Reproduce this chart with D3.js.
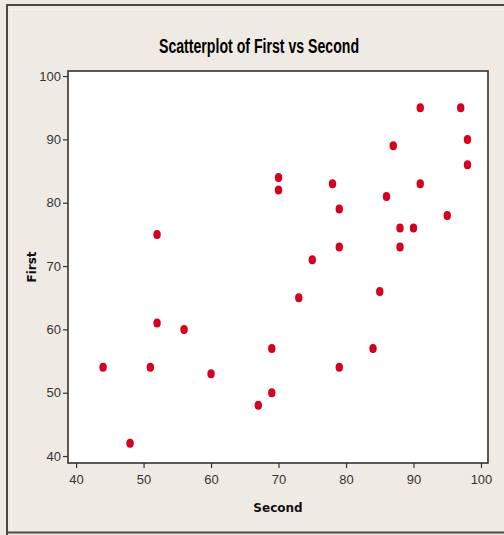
<!DOCTYPE html>
<html>
<head>
<meta charset="utf-8">
<script src="https://cdn.jsdelivr.net/npm/d3@7"></script>
<style>
  html, body { margin: 0; padding: 0; background: #efebe4; }
  svg { display: block; }
</style>
</head>
<body>
<svg id="chart" width="504" height="535"></svg>
<script>
// Paired scores: Second (x) vs First (y)
const second = [44, 48, 51, 52, 52, 56, 60, 67, 69, 69, 70, 70, 73, 75, 78, 79, 79, 79, 84, 85, 86, 87, 88, 88, 90, 91, 91, 95, 97, 98, 98];
const first  = [54, 42, 54, 61, 75, 60, 53, 48, 50, 57, 84, 82, 65, 71, 83, 79, 73, 54, 57, 66, 81, 89, 76, 73, 76, 95, 83, 78, 95, 90, 86];
const xTicks = [40, 50, 60, 70, 80, 90, 100];
const yTicks = [40, 50, 60, 70, 80, 90, 100];

const svg = d3.select("#chart");
const W = 504, H = 535;
const frame = { left: 68, right: 488, top: 71, bottom: 463 };

// outer panel with its border and light inner bevel
svg.append("rect").attr("x", 0).attr("y", 0).attr("width", W).attr("height", H).attr("fill", "#efebe4");
svg.append("path")
  .attr("d", `M11.5,${H - 4} V9.5 H${W}`)
  .attr("fill", "none").attr("stroke", "#f8f6f2").attr("stroke-width", 1);
svg.append("path")
  .attr("d", `M7,${H} V5 H${W}`)
  .attr("fill", "none").attr("stroke", "#4a4a4a").attr("stroke-width", 2);
svg.append("line")
  .attr("x1", 6).attr("x2", W).attr("y1", 532.5).attr("y2", 532.5)
  .attr("stroke", "#4a4a4a").attr("stroke-width", 2);

const x = d3.scaleLinear().domain([38.8, 101.04]).range([frame.left, frame.right]);
const y = d3.scaleLinear().domain([38.9, 100.8]).range([frame.bottom, frame.top]);

// plot area
svg.append("rect")
  .attr("x", frame.left).attr("y", frame.top)
  .attr("width", frame.right - frame.left).attr("height", frame.bottom - frame.top)
  .attr("fill", "#ffffff").attr("stroke", "#333").attr("stroke-width", 1.6);

const tickFont = "'Liberation Sans Narrow', 'Arial Narrow', 'Liberation Sans', sans-serif";

const xAxis = svg.append("g")
  .attr("transform", `translate(0,${frame.bottom})`)
  .call(d3.axisBottom(x).tickValues(xTicks).tickSize(5).tickPadding(7).tickSizeOuter(0));
const yAxis = svg.append("g")
  .attr("transform", `translate(${frame.left},0)`)
  .call(d3.axisLeft(y).tickValues(yTicks).tickSize(5).tickPadding(2).tickSizeOuter(0));

[xAxis, yAxis].forEach(g => {
  g.select(".domain").remove();
  g.selectAll(".tick line").attr("stroke", "#333").attr("stroke-width", 1.2);
  g.selectAll(".tick text")
    .attr("fill", "#333")
    .style("font-family", tickFont)
    .style("font-size", "13px");
});

// points
svg.append("g").selectAll("ellipse")
  .data(second.map((s, i) => ({ s, f: first[i] })))
  .join("ellipse")
  .attr("cx", d => x(d.s))
  .attr("cy", d => y(d.f))
  .attr("rx", 3.7)
  .attr("ry", 4.5)
  .attr("fill", "#d4001e");

// title
svg.append("text")
  .attr("x", 259).attr("y", 53)
  .attr("text-anchor", "middle")
  .attr("textLength", 200).attr("lengthAdjust", "spacingAndGlyphs")
  .style("font-family", tickFont)
  .style("font-size", "20px")
  .style("font-weight", "bold")
  .attr("fill", "#000")
  .text("Scatterplot of First vs Second");

// axis titles
svg.append("text")
  .attr("x", 278).attr("y", 512)
  .attr("text-anchor", "middle")
  .style("font-family", "'DejaVu Sans', sans-serif")
  .style("font-size", "12px")
  .style("font-weight", "bold")
  .attr("fill", "#111")
  .text("Second");

svg.append("text")
  .attr("transform", "translate(36,267) rotate(-90)")
  .attr("text-anchor", "middle")
  .style("font-family", "'DejaVu Sans', sans-serif")
  .style("font-size", "12px")
  .style("font-weight", "bold")
  .attr("fill", "#111")
  .text("First");
</script>
</body>
</html>
